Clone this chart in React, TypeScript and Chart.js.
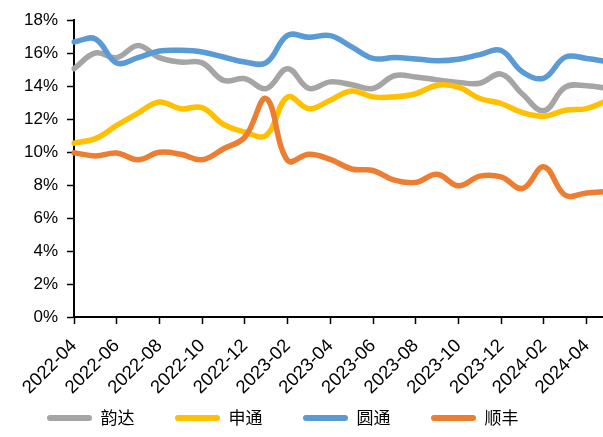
import React, { useEffect, useRef } from 'react';
import { Chart, registerables } from 'chart.js';

Chart.register(...registerables);

const months = [
  '2022-04', '2022-05', '2022-06', '2022-07', '2022-08', '2022-09', '2022-10', '2022-11', '2022-12',
  '2023-01', '2023-02', '2023-03', '2023-04', '2023-05', '2023-06', '2023-07', '2023-08', '2023-09',
  '2023-10', '2023-11', '2023-12', '2024-01', '2024-02', '2024-03', '2024-04', '2024-05',
];

const seriesNames = ['韵达', '申通', '圆通', '顺丰'];

const yundaValues = [15.05, 16.0, 15.72, 16.46, 15.72, 15.45, 15.4, 14.34, 14.44, 13.84, 15.05, 13.85, 14.25, 14.08, 13.85, 14.62, 14.55, 14.37, 14.22, 14.17, 14.72, 13.5, 12.5, 13.93, 14.02, 13.85];
const shentongValues = [10.54, 10.81, 11.61, 12.36, 13.03, 12.62, 12.69, 11.67, 11.21, 11.01, 13.33, 12.62, 13.14, 13.7, 13.34, 13.34, 13.53, 14.05, 13.93, 13.24, 12.94, 12.38, 12.17, 12.53, 12.63, 13.14];
const yuantongValues = [16.67, 16.85, 15.4, 15.72, 16.12, 16.16, 16.06, 15.76, 15.45, 15.42, 17.07, 16.95, 17.05, 16.37, 15.67, 15.72, 15.64, 15.53, 15.62, 15.9, 16.15, 14.85, 14.48, 15.75, 15.67, 15.46];
const shunfengValues = [9.96, 9.76, 9.94, 9.53, 9.98, 9.86, 9.53, 10.2, 10.9, 13.23, 9.49, 9.86, 9.55, 8.97, 8.88, 8.29, 8.16, 8.65, 7.95, 8.54, 8.49, 7.79, 9.1, 7.38, 7.52, 7.6];

const colors = ['#A5A5A5', '#FFC000', '#5B9BD5', '#ED7D31'];

export default function App() {
  const ref = useRef<HTMLCanvasElement>(null);

  useEffect(() => {
    if (!ref.current) return;
    const legendPlacer = {
      id: 'legendPlacer',
      afterLayout(chart: any) {
        const lg = chart.legend;
        if (lg) {
          lg.left = 6.5;
          lg.top = 369;
        }
      },
    };
    const values = [yundaValues, shentongValues, yuantongValues, shunfengValues];
    const chart = new Chart(ref.current, {
      type: 'line',
      data: {
        labels: months,
        datasets: seriesNames.map((name, i) => ({
          label: name,
          data: values[i],
          borderColor: colors[i],
          backgroundColor: colors[i],
          borderWidth: 5.5,
          pointRadius: 0,
          pointHoverRadius: 0,
          tension: 0.4,
          fill: false,
          borderJoinStyle: 'round' as const,
          borderCapStyle: 'round' as const,
          order: 3 - i,
        })),
      },
      options: {
        responsive: false,
        animation: false,
        devicePixelRatio: 1,
        layout: { padding: { top: 20, left: 0, right: 0, bottom: 0 } },
        plugins: {
          tooltip: { enabled: false },
          legend: {
            position: 'bottom',
            align: 'start',
            maxHeight: 40,
            labels: {
              boxWidth: 45,
              boxHeight: 6,
              padding: 40.5,
              color: '#000',
              font: { family: '"Noto Sans CJK SC", sans-serif', size: 17 },
              sort: (a: any, b: any) => a.datasetIndex - b.datasetIndex,
              generateLabels: (c: any) =>
                (Chart.defaults.plugins.legend.labels.generateLabels as any)(c).map((item: any) => ({
                  ...item,
                  lineWidth: 0,
                  borderRadius: 3,
                  fillStyle: c.data.datasets[item.datasetIndex].borderColor,
                })),
            },
          },
        },
        scales: {
          x: {
            type: 'category',
            offset: false,
            grid: {
              display: true,
              drawOnChartArea: false,
              drawTicks: true,
              tickLength: 7,
              tickColor: '#000',
              tickWidth: 1.5,
            },
            border: { display: true, color: '#000', width: 2 },
            afterBuildTicks: (scale: any) => {
              scale.ticks = scale.ticks.filter((t: any) => t.value % 2 === 0);
            },
            afterFit: (scale: any) => {
              scale.height = 80;
              scale.paddingLeft = 0;
              scale.paddingRight = 0;
            },
            ticks: {
              autoSkip: false,
              minRotation: 45,
              maxRotation: 45,
              padding: 11,
              color: '#000',
              font: { family: '"Liberation Sans", Arial, sans-serif', size: 18.5 },
            },
          },
          y: {
            min: 0,
            max: 18,
            grid: {
              display: true,
              drawOnChartArea: false,
              drawTicks: true,
              tickLength: 7,
              tickColor: '#000',
              tickWidth: 1.5,
            },
            border: { display: true, color: '#000', width: 2 },
            afterFit: (scale: any) => {
              scale.width = 74;
              scale.paddingTop = 0;
              scale.paddingBottom = 0;
            },
            ticks: {
              stepSize: 2,
              padding: 9,
              color: '#000',
              font: { family: '"Liberation Sans", Arial, sans-serif', size: 17 },
              callback: (v: any) => `${v}%`,
            },
          },
        },
      },
      plugins: [legendPlacer],
    });
    return () => chart.destroy();
  }, []);

  return (
    <div style={{ position: 'fixed', left: 0, top: 0, width: 603, height: 437, overflow: 'hidden', background: '#fff' }}>
      <canvas ref={ref} width={608} height={437} style={{ display: 'block', width: 608, height: 437 }} />
    </div>
  );
}
